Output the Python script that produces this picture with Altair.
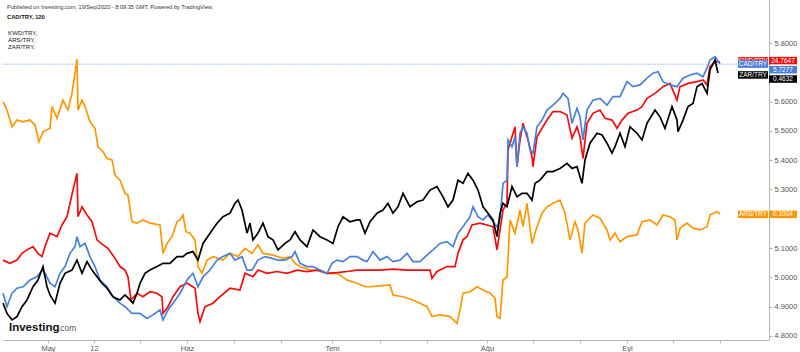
import altair as alt
import pandas as pd

# (bar index, value on the CAD/TRY-scaled comparison axis)
ars = [(3,5.600),(7,5.571),(12,5.514),(17,5.537),(23,5.531),(30,5.537),(35,5.520),(39,5.463),(43,5.497),(50,5.509),(52,5.583),(57,5.543),(63,5.605),(68,5.571),(72,5.628),(75,5.697),(77,5.745),(78,5.571),(82,5.605),(85,5.583),(90,5.531),(95,5.509),(98,5.446),(103,5.429),(107,5.406),(112,5.401),(115,5.349),(120,5.332),(125,5.287),(128,5.281),(132,5.190),(137,5.185),(143,5.196),(150,5.185),(160,5.179),(163,5.082),(167,5.116),(172,5.139),(177,5.190),(180,5.196),(183,5.213),(186,5.156),(190,5.151),(195,5.128),(198,5.037),(202,5.014),(207,5.059),(213,5.071),(223,5.059),(230,5.082),(238,5.071),(245,5.099),(252,5.082),(258,5.111),(263,5.082),(273,5.076),(283,5.065),(290,5.071),(295,5.048),(300,5.037),(310,5.025),(320,5.025),(327,5.014),(337,5.014),(347,4.991),(357,4.980),(365,4.968),(370,4.968),(380,4.971),(390,4.974),(393,4.940),(403,4.934),(413,4.923),(420,4.912),(427,4.900),(432,4.866),(440,4.872),(450,4.866),(457,4.843),(460,4.889),(463,4.946),(470,4.951),(477,4.968),(483,4.957),(490,4.946),(495,4.929),(497,4.866),(500,4.860),(503,4.991),(507,5.002),(510,5.196),(515,5.151),(520,5.230),(523,5.173),(527,5.253),(532,5.116),(537,5.173),(542,5.219),(547,5.241),(553,5.253),(560,5.264),(565,5.219),(570,5.128),(575,5.190),(578,5.162),(582,5.082),(585,5.185),(593,5.213),(600,5.202),(607,5.162),(610,5.128),(615,5.151),(620,5.122),(627,5.139),(637,5.145),(642,5.190),(650,5.196),(657,5.179),(663,5.213),(670,5.207),(675,5.196),(677,5.128),(680,5.168),(687,5.185),(693,5.168),(700,5.162),(707,5.173),(710,5.213),(717,5.224),(720,5.216)]

kwd = [(3,5.059),(10,5.048),(17,5.059),(22,5.082),(27,5.094),(33,5.105),(38,5.082),(42,5.071),(45,5.105),(50,5.151),(57,5.139),(62,5.179),(67,5.207),(70,5.253),(73,5.298),(77,5.355),(78,5.207),(82,5.241),(87,5.213),(92,5.190),(97,5.128),(103,5.111),(108,5.099),(115,5.065),(120,5.037),(125,5.025),(128,5.002),(131,4.923),(137,4.946),(143,4.934),(150,4.951),(157,4.946),(162,4.934),(163,4.877),(168,4.900),(173,4.934),(180,4.968),(187,4.980),(190,4.974),(195,4.963),(198,4.877),(200,4.849),(205,4.900),(213,4.912),(220,4.934),(230,4.963),(240,4.957),(245,5.014),(253,5.002),(258,5.025),(267,5.014),(277,5.020),(287,5.014),(297,5.025),(307,5.020),(317,5.025),(327,5.014),(337,5.016),(347,5.020),(357,5.025),(370,5.025),(380,5.025),(393,5.028),(407,5.025),(420,5.025),(430,5.025),(432,4.997),(437,5.020),(447,5.037),(455,5.037),(458,5.082),(463,5.128),(467,5.139),(472,5.179),(480,5.185),(487,5.179),(493,5.173),(497,5.094),(500,5.162),(503,5.230),(507,5.253),(508,5.435),(512,5.480),(515,5.514),(517,5.378),(520,5.469),(523,5.526),(528,5.469),(532,5.412),(533,5.378),(537,5.480),(542,5.509),(547,5.537),(553,5.566),(560,5.566),(567,5.554),(572,5.475),(577,5.514),(580,5.480),(583,5.406),(587,5.526),(593,5.560),(600,5.571),(605,5.543),(612,5.537),(617,5.509),(622,5.537),(628,5.560),(637,5.571),(642,5.583),(647,5.611),(655,5.628),(663,5.651),(670,5.662),(677,5.605),(680,5.651),(688,5.662),(697,5.668),(703,5.674),(707,5.657),(710,5.719),(715,5.736),(720,5.736)]

cad = [(3,4.946),(7,4.900),(12,4.946),(17,4.963),(23,4.968),(30,4.991),(37,5.002),(42,5.025),(45,5.014),(50,4.980),(55,4.968),(60,5.014),(65,5.037),(70,5.082),(75,5.105),(77,5.139),(80,5.105),(85,5.116),(90,5.071),(95,5.037),(100,4.991),(107,4.968),(113,4.934),(120,4.912),(125,4.900),(132,4.877),(140,4.877),(147,4.860),(153,4.872),(160,4.889),(163,4.855),(168,4.889),(173,4.912),(180,4.945),(187,4.991),(193,5.014),(198,4.968),(203,5.002),(210,5.025),(217,5.059),(223,5.071),(230,5.082),(235,5.059),(242,5.071),(247,5.025),(252,5.025),(258,5.059),(265,5.071),(272,5.065),(278,5.059),(285,5.059),(292,5.071),(295,5.088),(300,5.048),(307,5.037),(313,5.037),(320,5.025),(327,5.014),(332,5.048),(337,5.059),(343,5.054),(350,5.071),(357,5.071),(363,5.059),(367,5.054),(373,5.088),(380,5.059),(387,5.071),(393,5.054),(400,5.059),(407,5.082),(413,5.054),(420,5.054),(427,5.076),(433,5.094),(440,5.116),(447,5.122),(453,5.105),(458,5.151),(463,5.173),(470,5.207),(473,5.241),(478,5.207),(483,5.196),(488,5.213),(493,5.190),(497,5.173),(500,5.196),(503,5.321),(507,5.332),(508,5.469),(512,5.446),(515,5.480),(517,5.378),(520,5.492),(523,5.514),(527,5.492),(530,5.435),(533,5.424),(537,5.514),(542,5.537),(547,5.571),(553,5.588),(560,5.611),(563,5.628),(568,5.611),(572,5.526),(577,5.577),(580,5.548),(583,5.469),(587,5.571),(593,5.605),(600,5.611),(607,5.588),(613,5.617),(620,5.617),(627,5.668),(633,5.651),(640,5.657),(647,5.680),(653,5.697),(658,5.702),(663,5.668),(670,5.657),(677,5.651),(683,5.680),(690,5.691),(697,5.697),(703,5.685),(707,5.714),(710,5.742),(715,5.753),(720,5.728)]

zar = [(3,4.912),(7,4.877),(12,4.855),(17,4.866),(22,4.900),(27,4.923),(33,4.968),(38,4.991),(43,5.037),(47,4.968),(50,4.940),(55,4.912),(60,4.980),(65,5.014),(72,5.025),(77,5.059),(82,5.014),(87,5.054),(92,5.025),(97,5.002),(102,4.980),(107,4.963),(113,4.934),(120,4.923),(125,4.940),(130,4.923),(133,4.912),(137,4.946),(140,4.980),(145,5.014),(150,5.025),(157,5.037),(163,5.048),(170,5.048),(177,5.071),(183,5.071),(187,5.082),(193,5.088),(198,5.059),(203,5.116),(210,5.151),(217,5.185),(223,5.207),(230,5.219),(235,5.253),(238,5.264),(242,5.230),(247,5.151),(250,5.185),(253,5.128),(258,5.151),(263,5.185),(268,5.139),(273,5.128),(278,5.094),(285,5.116),(290,5.128),(295,5.156),(300,5.128),(307,5.105),(313,5.162),(320,5.139),(327,5.128),(333,5.116),(338,5.173),(343,5.207),(350,5.190),(357,5.196),(360,5.196),(365,5.151),(370,5.190),(377,5.219),(383,5.230),(388,5.253),(393,5.219),(398,5.241),(403,5.287),(410,5.241),(417,5.258),(423,5.264),(430,5.298),(437,5.310),(443,5.275),(448,5.241),(453,5.264),(458,5.332),(463,5.321),(468,5.355),(473,5.332),(478,5.298),(483,5.241),(488,5.219),(493,5.196),(497,5.139),(500,5.219),(503,5.253),(507,5.241),(512,5.310),(517,5.275),(522,5.287),(527,5.287),(532,5.264),(535,5.321),(540,5.332),(547,5.361),(553,5.361),(560,5.372),(567,5.389),(572,5.372),(577,5.378),(582,5.321),(585,5.401),(590,5.458),(597,5.492),(602,5.486),(607,5.458),(612,5.424),(615,5.446),(620,5.492),(625,5.446),(630,5.514),(637,5.492),(642,5.469),(647,5.526),(655,5.571),(660,5.548),(665,5.509),(672,5.583),(677,5.537),(678,5.497),(683,5.537),(688,5.583),(693,5.594),(697,5.651),(702,5.662),(707,5.628),(710,5.708),(715,5.742),(718,5.697)]

series_names = ["ARS/TRY", "KWD/TRY", "CAD/TRY", "ZAR/TRY"]
series_colors = ["#ff9800", "#f50d0d", "#4a7fdc", "#000000"]
series_points = [ars, kwd, cad, zar]

tick_pos = [48, 94, 140, 187, 234, 281, 332, 380, 427, 487, 533, 580, 627, 673, 720]
tick_text = ["May", "12", "", "Haz", "", "", "Tem", "", "", "Ağu", "", "", "Eyl", "", ""]
# 5.7 and 5.2 are hidden behind the price tags in the original
y_ticks = [4.8, 4.9, 5.0, 5.1, 5.3, 5.4, 5.5, 5.6, 5.8]
cad_last = 5.7277

# price tags on the right
tag_names = ["KWD/TRY", "CAD/TRY", "ZAR/TRY", "ARS/TRY"]
tag_prices = ["24.7647", "5.7277", "0.4632", "0.1004"]
tag_colors = ["#f50d0d", "#4a7fdc", "#000000", "#ff9800"]
tag_name_level = [5.739, 5.728, 5.691, 5.215]
tag_price_level = [5.740, 5.709, 5.677, 5.215]

header = "Published on Investing.com, 19/Sep/2020 - 8:09:35 GMT, Powered by TradingView."
main_symbol = "CAD/TRY, 120"
compare_symbols = ["KWD/TRY,", "ARS/TRY,", "ZAR/TRY,"]

FONT = "Liberation Sans"
W, H = 766, 340

rows = []
for name, pts in zip(series_names, series_points):
    for t, v in pts:
        rows.append({"s": name, "t": t, "v": v})
df = pd.DataFrame(rows)

label_expr = "''"
for p, txt in reversed(list(zip(tick_pos, tick_text))):
    label_expr = f"datum.value == {p} ? '{txt}' : ({label_expr})"

xscale = alt.Scale(domain=[3, 769], nice=False, zero=False)
yscale = alt.Scale(domain=[4.7863, 5.9468], nice=False, zero=False)
xaxis = alt.Axis(values=tick_pos, labelExpr=label_expr, domainColor="#b5b5b5", tickColor="#b5b5b5",
                 tickSize=3, labelFontSize=7.5, labelColor="#555555", labelPadding=1, grid=False,
                 title=None, labelFlush=False, labelOverlap=False, labelFont=FONT)
yaxis = alt.Axis(orient="right", values=y_ticks, format=".4f", domainColor="#b5b5b5", tickColor="#b5b5b5",
                 tickSize=3, labelFontSize=7.5, labelColor="#555555", labelPadding=2, grid=False,
                 title=None, labelFlush=False, labelOverlap=False, labelFont=FONT)

X = alt.X("t:Q", scale=xscale, axis=xaxis, title=None)
Y = alt.Y("v:Q", scale=yscale, axis=yaxis, title=None)

layers = []

# last-price line of the main symbol
ref_df = pd.DataFrame({"v": [cad_last]})
layers.append(alt.Chart(ref_df).mark_rule(color="#a9c5f2", strokeWidth=1, strokeDash=[2, 1]).encode(
    y=Y, x=alt.value(0), x2=alt.value(W)))

for name, col in zip(series_names, series_colors):
    layers.append(alt.Chart(df[df.s == name]).mark_line(color=col, strokeWidth=1.7, interpolate="linear").encode(
        x=X, y=Y, order="t:Q"))

half = 0.0128
tag_df = pd.DataFrame({"name": tag_names, "price": tag_prices, "col": tag_colors,
                       "v": tag_name_level, "pv": tag_price_level})
tag_df["lo"] = tag_df["v"] - half
tag_df["hi"] = tag_df["v"] + half
tag_df["plo"] = tag_df["pv"] - half
tag_df["phi"] = tag_df["pv"] + half

for i in range(len(tag_names)):
    one = tag_df.iloc[[i]]
    c = tag_colors[i]
    layers.append(alt.Chart(one).mark_rect(color=c).encode(
        x=alt.value(735), x2=alt.value(765),
        y=alt.Y("lo:Q", scale=yscale, axis=yaxis, title=None), y2="hi:Q"))
    layers.append(alt.Chart(one).mark_text(color="white", fontSize=6.5, font=FONT, align="center", baseline="middle").encode(
        x=alt.value(750), y=Y, text="name:N"))
for i in range(len(tag_names)):
    one = tag_df.iloc[[i]]
    c = tag_colors[i]
    layers.append(alt.Chart(one).mark_rect(color=c).encode(
        x=alt.value(766), x2=alt.value(794),
        y=alt.Y("plo:Q", scale=yscale, axis=yaxis, title=None), y2="phi:Q"))
    layers.append(alt.Chart(one).mark_text(color="white", fontSize=6.5, font=FONT, align="center", baseline="middle").encode(
        x=alt.value(780), y=alt.Y("pv:Q", scale=yscale, axis=yaxis, title=None), text="price:N"))

one_row = pd.DataFrame({"a": [0]})
layers.append(alt.Chart(one_row).mark_text(text=header, fontSize=5.6, font=FONT, color="#333333",
                                           align="left", baseline="middle").encode(x=alt.value(4), y=alt.value(7)))
layers.append(alt.Chart(one_row).mark_text(text=main_symbol, fontSize=5.8, font=FONT, fontWeight="bold",
                                           color="#111111", align="left", baseline="middle").encode(x=alt.value(4), y=alt.value(17)))
for k, s in enumerate(compare_symbols):
    layers.append(alt.Chart(one_row).mark_text(text=s, fontSize=6.2, font=FONT, color="#222222",
                                               align="left", baseline="middle").encode(x=alt.value(5), y=alt.value(32.5 + 7.2 * k)))

layers.append(alt.Chart(one_row).mark_text(text="Investing", fontSize=11.5, font=FONT, fontWeight="bold",
                                           color="#111111", align="left", baseline="alphabetic").encode(x=alt.value(6), y=alt.value(331)))
layers.append(alt.Chart(one_row).mark_text(text=".com", fontSize=8.5, font=FONT, color="#555555",
                                           align="left", baseline="alphabetic").encode(x=alt.value(55), y=alt.value(331)))

chart = alt.layer(*layers).properties(
    width=W, height=H,
    padding={"left": 3, "top": 0, "right": 31, "bottom": 12},
    autosize=alt.AutoSizeParams(type="none"),
    background="white",
).configure_view(stroke=None)

chart.save("out.html", embed_options={"renderer": "svg", "actions": False})
